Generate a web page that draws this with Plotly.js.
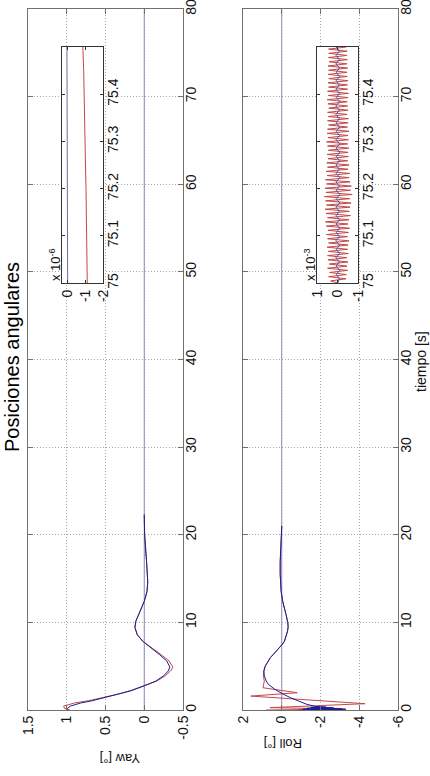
<!DOCTYPE html>
<html><head><meta charset="utf-8">
<script src="https://cdn.plot.ly/plotly-3.0.1.min.js"></script>
<style>html,body{margin:0;padding:0;background:#fff}#chart{width:430px;height:776px}</style>
</head><body><div id="chart"></div>
<script>
// ---------- data ----------
const titleText = 'Posiciones angulares';
const timeLabel = 'tiempo [s]';
const yawLabel = 'Yaw [°]';
const rollLabel = 'Roll [°]';

const timeTicks = [0, 10, 20, 30, 40, 50, 60, 70, 80];
const yawTicks = [1.5, 1, 0.5, 0, -0.5];
const yawTickText = ['1.5', '1', '0.5', '0', '-0.5'];
const rollTicks = [2, 0, -2, -4, -6];
const rollTickText = ['2', '0', '-2', '-4', '-6'];

// reference (set-point) line
const refTime = [0, 80];
const refValue = [0, 0];

// Yaw main
const yawTime = [0, 0.2, 0.45, 0.8, 1.06, 1.43, 1.8, 2.2, 2.76, 3.3, 3.9, 4.45, 4.9, 5.6, 6.3, 7.1, 7.85, 8.6, 9.4, 10.1, 11.2, 12.4, 13.5, 14.6, 16.9, 18.5, 20, 22.3];
const yawBlue = [1.0, 0.99, 0.95, 0.82, 0.67, 0.5, 0.32, 0.17, 0.0, -0.15, -0.25, -0.31, -0.33, -0.29, -0.2, -0.08, 0.02, 0.09, 0.12, 0.11, 0.06, 0.0, -0.035, -0.045, -0.03, -0.015, -0.005, 0];
const yawRed = [0.96, 1.03, 1.04, 0.9, 0.72, 0.53, 0.34, 0.18, 0.01, -0.16, -0.27, -0.34, -0.37, -0.32, -0.22, -0.09, 0.02, 0.09, 0.12, 0.11, 0.06, 0.0, -0.035, -0.045, -0.03, -0.015, -0.005, 0];

// Roll main
const rollBlueTime = [0, 0.025, 0.05, 0.075, 0.1, 0.125, 0.15, 0.175, 0.2, 0.225, 0.25, 0.275, 0.3, 0.325, 0.35, 0.375, 0.4, 0.45, 0.64, 1.0, 1.4, 1.9, 2.4, 2.9, 3.3, 3.9, 4.45, 5.0, 5.6, 6.0, 6.5, 7.0, 7.5, 7.85, 8.5, 9.0, 9.5, 10.0, 10.9, 11.5, 12.4, 13.5, 14.6, 15.5, 16.9, 18, 19, 20, 21];
const rollBlue = [-0.9, -3.3, -1.0, -3.2, -1.1, -3.1, -1.2, -2.9, -1.3, -2.7, -1.4, -2.5, -1.5, -2.3, -1.55, -2.1, -1.7, -1.67, -1.3, -0.85, -0.45, 0.0, 0.38, 0.68, 0.8, 0.9, 0.92, 0.85, 0.71, 0.58, 0.37, 0.15, -0.03, -0.14, -0.25, -0.3, -0.33, -0.31, -0.22, -0.14, -0.05, 0.03, 0.07, 0.08, 0.08, 0.06, 0.04, 0.02, 0.0];
const rollRedTime = [0, 0.11, 0.27, 0.72, 1.59, 1.97, 2.54, 2.9, 3.3, 3.9, 4.45, 5.0, 5.6, 6.0, 6.5, 7.0, 7.5, 7.85, 8.5, 9.0, 9.5, 10.0, 10.9, 11.5, 12.4, 13.5, 14.6, 15.5, 16.9, 18, 19, 20, 21];
const rollRed = [0.8, -3.3, 0.6, -4.3, 1.6, -0.8, 0.97, 0.92, 0.9, 0.95, 0.93, 0.86, 0.71, 0.58, 0.37, 0.15, -0.03, -0.14, -0.25, -0.3, -0.33, -0.31, -0.22, -0.14, -0.05, 0.03, 0.07, 0.08, 0.08, 0.06, 0.04, 0.02, 0.0];

// Yaw inset (x 10^-6), t = 75 .. 75.5
const insetTimeTicks = [75, 75.1, 75.2, 75.3, 75.4];
const insetTimeText = ['75', '75.1', '75.2', '75.3', '75.4'];
const yawInsetTicks = [0, -1, -2];
const yawInsetTime = [75, 75.05, 75.1, 75.15, 75.2, 75.25, 75.3, 75.35, 75.4, 75.45, 75.5];
const yawInsetRed = [-1.1, -1.09, -1.07, -1.05, -1.03, -1.0, -0.98, -0.96, -0.93, -0.9, -0.85];
const yawInsetBlue = [0.0, 0.0, 0.0, 0.0, 0.0, 0.0, 0.02, 0.02, 0.03, 0.03, 0.04];

// Roll inset (x 10^-3), uniformly sampled over 75 .. 75.5
const rollInsetTicks = [1, 0, -1];
const rollInsetRed = [0,
  0.35,-0.4, 0.45,-0.42, 0.4,-0.48, 0.5,-0.45, 0.42,-0.5, 0.48,-0.44, 0.5,-0.52, 0.46,-0.48, 0.52,-0.5, 0.45,-0.55,
  0.5,-0.48, 0.55,-0.52, 0.48,-0.58, 0.56,-0.5, 0.6,-0.55, 0.5,-0.62, 0.58,-0.56, 0.62,-0.6, 0.55,-0.65, 0.6,-0.58,
  0.65,-0.7, 0.58,-0.62, 0.62,-0.66, 0.55,-0.6, 0.6,-0.55, 0.52,-0.58, 0.56,-0.5, 0.5,-0.55, 0.54,-0.48, 0.48,-0.52,
  0.52,-0.5, 0.46,-0.54, 0.5,-0.48, 0.55,-0.52, 0.48,-0.5, 0.52,-0.55, 0.5,-0.47, 0.45,-0.5, 0.5,-0.52, 0.47,-0.45,
  0.5,-0.5, 0.44,-0.48, 0.48,-0.46, 0.52,-0.5, 0.46,-0.52, 0.5,-0.48, 0.45,-0.47, 0.48,-0.5, 0.44,-0.46, 0.47,-0.45,
  0.45,-0.48, 0.48,-0.44, 0.43,-0.47, 0.46,-0.45, 0.44,-0.46, 0.45,-0.42];
const rollInsetBlue = [0,
  -0.08, 0.07, -0.09, 0.08, -0.07, 0.09, -0.08, 0.07, -0.09, 0.1, -0.08, 0.07, -0.1, 0.09, -0.08, 0.08, -0.07, 0.09, -0.1, 0.08,
  -0.09, 0.07, -0.08, 0.09, -0.1, 0.08, -0.07, 0.09, -0.08, 0.07, -0.09, 0.08, -0.1, 0.09, -0.08, 0.07, -0.09, 0.08, -0.07, 0.09,
  -0.08, 0.1, -0.09, 0.07, -0.08, 0.09, -0.07, 0.08, -0.09, 0.07, -0.08, 0.09, -0.07, 0.08, -0.08, 0.07];

// sample instants of the uniformly sampled inset signals
const sampleTimes = (n) => Array.from({length: n}, (_, i) => 75 + 0.5 * i / (n - 1));
const rollInsetRedTime = sampleTimes(rollInsetRed.length);
const rollInsetBlueTime = sampleTimes(rollInsetBlue.length);

// ---------- styling ----------
const W = 430, H = 776;
const RED = '#c44848', BLUE = '#1c1c96', REF = '#8a8ab8';
const FONT = 'Liberation Sans, Arial, Helvetica, sans-serif';
const xd = (a, b) => [a / W, b / W];
const yd = (top, bottom) => [1 - bottom / H, 1 - top / H];

function ax(extra) {
  return Object.assign({
    showline: true, linecolor: '#707070', linewidth: 1, mirror: 'ticks',
    ticks: 'inside', ticklen: 5, tickcolor: '#707070', tickwidth: 1,
    zeroline: false, showgrid: true, gridcolor: '#a8a8a8', griddash: '1px,2px', gridwidth: 1,
    tickfont: {family: FONT, size: 14, color: '#111'}, fixedrange: true,
    ticklabeloverflow: 'allow'
  }, extra);
}

const line = (x, y, xa, ya, color, w) => ({
  type: 'scatter', mode: 'lines', x: x, y: y, xaxis: xa, yaxis: ya,
  line: {color: color, width: w || 1}, hoverinfo: 'skip'
});

const traces = [
  line(refValue, refTime, 'x', 'y', REF),
  line(yawRed, yawTime, 'x', 'y', RED),
  line(yawBlue, yawTime, 'x', 'y', BLUE),
  line(refValue, refTime, 'x2', 'y2', REF),
  line(rollRed, rollRedTime, 'x2', 'y2', RED),
  line(rollBlue, rollBlueTime, 'x2', 'y2', BLUE),
  line(yawInsetRed, yawInsetTime, 'x3', 'y3', RED),
  line(yawInsetBlue, yawInsetTime, 'x3', 'y3', '#6a6aa8'),
  line(rollInsetRed, rollInsetRedTime, 'x4', 'y4', RED),
  line(rollInsetBlue, rollInsetBlueTime, 'x4', 'y4', '#5050a8')
];

const mainY = yd(9, 710);
const insetY = yd(47, 283);
const insetAx = {showgrid: false, linecolor: '#333', tickcolor: '#333', ticklen: 3};

const layout = {
  width: W, height: H, margin: {l: 0, r: 0, t: 0, b: 0},
  paper_bgcolor: '#fff', plot_bgcolor: '#fff', showlegend: false,
  font: {family: FONT, size: 14, color: '#111'},
  xaxis: ax({domain: xd(28, 183), anchor: 'y', range: [1.5, -0.5], tickmode: 'array', tickvals: yawTicks, ticktext: yawTickText, tickangle: -90, ticklabelstandoff: -1}),
  yaxis: ax({domain: mainY, anchor: 'x', range: [0, 80], tickmode: 'array', tickvals: timeTicks, side: 'right', tickangle: -90, ticklabelstandoff: -5}),
  xaxis2: ax({domain: xd(243, 398), anchor: 'y2', range: [2, -6], tickmode: 'array', tickvals: rollTicks, ticktext: rollTickText, tickangle: -90, ticklabelstandoff: -1}),
  yaxis2: ax({domain: mainY, anchor: 'x2', range: [0, 80], tickmode: 'array', tickvals: timeTicks, side: 'right', tickangle: -90, ticklabelstandoff: -5}),
  xaxis3: ax(Object.assign({domain: xd(62.3, 103.3), anchor: 'y3', range: [0.3, -2], tickmode: 'array', tickvals: yawInsetTicks, ticktext: ['0', '-1', '-2'], tickangle: -90}, insetAx)),
  yaxis3: ax(Object.assign({domain: insetY, anchor: 'x3', range: [75, 75.5], tickmode: 'array', tickvals: insetTimeTicks, ticktext: insetTimeText, side: 'right', tickangle: -90, ticklabelstandoff: -3}, insetAx)),
  xaxis4: ax(Object.assign({domain: xd(317.3, 358.3), anchor: 'y4', range: [1, -1], tickmode: 'array', tickvals: rollInsetTicks, ticktext: ['1', '0', '-1'], tickangle: -90}, insetAx)),
  yaxis4: ax(Object.assign({domain: insetY, anchor: 'x4', range: [75, 75.5], tickmode: 'array', tickvals: insetTimeTicks, ticktext: insetTimeText, side: 'right', tickangle: -90, ticklabelstandoff: -3}, insetAx)),
  annotations: [
    {text: titleText, xref: 'paper', yref: 'paper', x: 12 / W, y: 1 - 357 / H, textangle: -90, showarrow: false, xanchor: 'center', yanchor: 'middle', font: {family: FONT, size: 20, color: '#000'}},
    {text: timeLabel, xref: 'paper', yref: 'paper', x: 421 / W, y: 1 - 362 / H, textangle: -90, showarrow: false, xanchor: 'center', yanchor: 'middle', font: {family: FONT, size: 14, color: '#111'}},
    {text: yawLabel, xref: 'paper', yref: 'paper', x: 120 / W, y: 1 - 759 / H, textangle: 180, showarrow: false, xanchor: 'center', yanchor: 'middle', font: {family: FONT, size: 13, color: '#111'}},
    {text: rollLabel, xref: 'paper', yref: 'paper', x: 283 / W, y: 1 - 744 / H, textangle: 180, showarrow: false, xanchor: 'center', yanchor: 'middle', font: {family: FONT, size: 13, color: '#111'}},
    {text: 'x 10<sup>-6</sup>', xref: 'paper', yref: 'paper', x: 55 / W, y: 1 - 265 / H, textangle: -90, showarrow: false, xanchor: 'center', yanchor: 'middle', font: {family: FONT, size: 13, color: '#111'}},
    {text: 'x 10<sup>-3</sup>', xref: 'paper', yref: 'paper', x: 310 / W, y: 1 - 265 / H, textangle: -90, showarrow: false, xanchor: 'center', yanchor: 'middle', font: {family: FONT, size: 13, color: '#111'}}
  ]
};

Plotly.newPlot('chart', traces, layout, {staticPlot: true, displayModeBar: false});
</script></body></html>
